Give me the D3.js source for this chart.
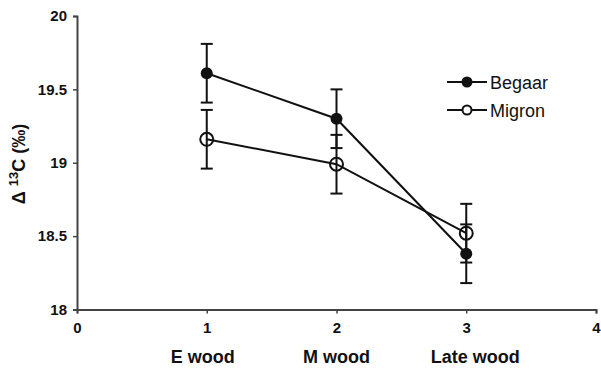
<!DOCTYPE html>
<html><head><meta charset="utf-8">
<script src="https://cdn.jsdelivr.net/npm/d3@7"></script>
<style>body{margin:0;background:#fff}svg{display:block}text{font-family:Arial,"Liberation Sans",Helvetica,sans-serif}</style>
</head><body>
<svg id="c" width="601" height="370"></svg>
<script>
const positions = [1, 2, 3];
const categories = ["E wood", "M wood", "Late wood"];
const categoryOffsets = [-4, 0, 9];
const begaar = [19.61, 19.30, 18.38];
const begaarErr = [0.20, 0.20, 0.20];
const migron = [19.16, 18.99, 18.52];
const migronErr = [0.20, 0.20, 0.20];
const xTicks = [0, 1, 2, 3, 4];
const yTicks = [18, 18.5, 19, 19.5, 20];
const seriesNames = ["Begaar", "Migron"];

const svg = d3.select("#c");
const x = d3.scaleLinear().domain([0, 4]).range([77, 596]);
const y = d3.scaleLinear().domain([18, 20]).range([309.5, 16]);
const axisColor = "#444";

const ya = svg.append("g").attr("transform", "translate(77,0)")
  .call(d3.axisLeft(y).tickValues(yTicks).tickSize(4).tickPadding(6).tickFormat(d => d3.format("")(d)));
const xa = svg.append("g").attr("transform", "translate(0,309.5)")
  .call(d3.axisBottom(x).tickValues(xTicks).tickSize(4).tickPadding(9).tickFormat(d3.format("d")));
[ya, xa].forEach(g => {
  g.attr("font-size", 15);
  g.select(".domain").attr("stroke", axisColor).attr("stroke-width", 2);
  g.selectAll(".tick line").attr("stroke", axisColor).attr("stroke-width", 1.5);
  g.selectAll(".tick text").attr("fill", "#111").attr("font-size", 15).attr("font-weight", "bold");
});

svg.append("g").selectAll("text").data(categories).join("text")
  .attr("x", (d, i) => x(positions[i]) + categoryOffsets[i])
  .attr("y", 363)
  .attr("text-anchor", "middle")
  .attr("font-size", 18).attr("font-weight", "bold").attr("fill", "#111")
  .text(d => d);

const yt = svg.append("text")
  .attr("transform", "translate(25,164) rotate(-90)")
  .attr("text-anchor", "middle")
  .attr("font-size", 18).attr("font-weight", "bold").attr("fill", "#111");
yt.append("tspan").text("\u0394 ");
yt.append("tspan").attr("font-size", 13).attr("dy", -7).text("13");
yt.append("tspan").attr("dy", 7).text("C (\u2030)");

function drawSeries(vals, errs) {
  const g = svg.append("g");
  const line = d3.line().x((d, i) => x(positions[i])).y(d => y(d));
  g.append("path").datum(vals).attr("d", line)
    .attr("fill", "none").attr("stroke", "#111").attr("stroke-width", 2);
  vals.forEach((v, i) => {
    const cx = x(positions[i]);
    const top = y(v + errs[i]), bot = y(v - errs[i]);
    g.append("line").attr("x1", cx).attr("x2", cx).attr("y1", top).attr("y2", bot)
      .attr("stroke", "#111").attr("stroke-width", 2);
    [top, bot].forEach(yy => g.append("line")
      .attr("x1", cx - 6).attr("x2", cx + 6).attr("y1", yy).attr("y2", yy)
      .attr("stroke", "#111").attr("stroke-width", 2));
  });
  return g;
}
const gm = drawSeries(migron, migronErr);
const gb = drawSeries(begaar, begaarErr);
gm.selectAll("circle.m").data(migron).join("circle")
  .attr("cx", (d, i) => x(positions[i])).attr("cy", d => y(d)).attr("r", 6.5)
  .attr("fill", "none").attr("stroke", "#111").attr("stroke-width", 2);
gb.selectAll("circle.b").data(begaar).join("circle")
  .attr("cx", (d, i) => x(positions[i])).attr("cy", d => y(d)).attr("r", 6)
  .attr("fill", "#111");

const lg = svg.append("g");
seriesNames.forEach((name, i) => {
  const ly = 82 + i * 28;
  lg.append("line").attr("x1", 447).attr("x2", 487).attr("y1", ly).attr("y2", ly)
    .attr("stroke", "#111").attr("stroke-width", 2);
  lg.append("circle").attr("cx", 467).attr("cy", ly).attr("r", i === 0 ? 5.5 : 4.5)
    .attr("fill", i === 0 ? "#111" : "#fff").attr("stroke", "#111").attr("stroke-width", i === 0 ? 0 : 2);
  lg.append("text").attr("x", 490).attr("y", ly + 6.5).attr("font-size", 18).attr("fill", "#111").text(name);
});
</script>
</body></html>
